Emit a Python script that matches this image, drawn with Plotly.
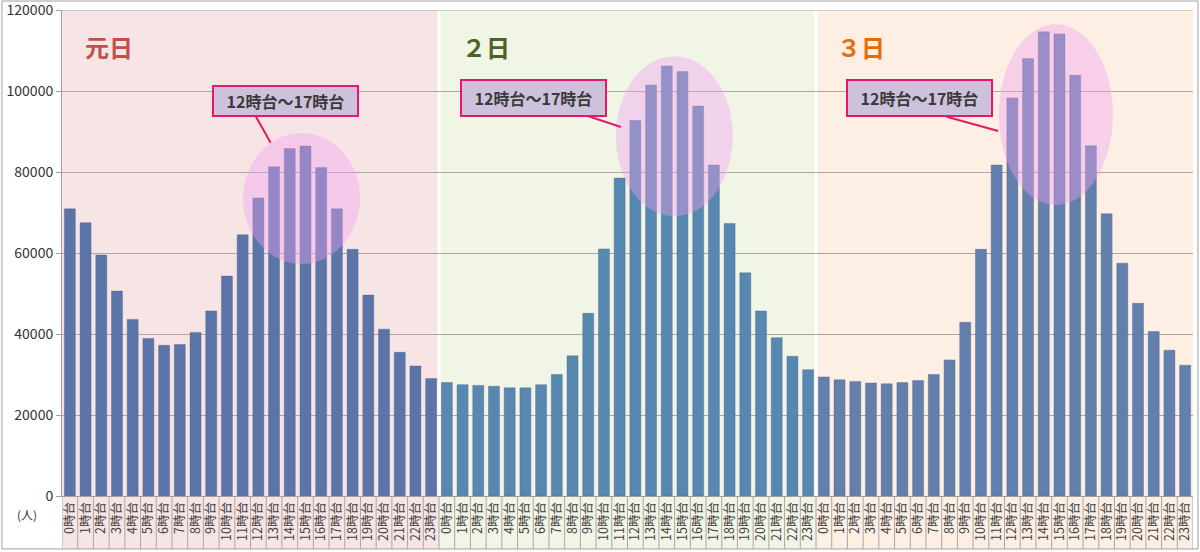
import plotly.graph_objects as go

hours = [f"{h}時台" for h in range(24)]
day_names = ["元日", "２日", "３日"]

day1 = [70900, 67500, 59500, 50600, 43600, 38900, 37200, 37400, 40400, 45700, 54300, 64500,
        73600, 81300, 85800, 86400, 81100, 70900, 60900, 49600, 41200, 35500, 32100, 29000]
day2 = [28000, 27500, 27300, 27100, 26700, 26700, 27500, 30000, 34600, 45100, 61000, 78500,
        92700, 101500, 106200, 104800, 96300, 81700, 67300, 55100, 45700, 39100, 34500, 31200]
day3 = [29400, 28700, 28300, 27900, 27700, 28000, 28500, 30000, 33600, 42900, 60900, 81700,
        98300, 108000, 114600, 114100, 103900, 86500, 69700, 57500, 47600, 40600, 36000, 32300]
callout_text = "12時台～17時台"
y_ticks = [0, 20000, 40000, 60000, 80000, 100000, 120000]

series = [day1, day2, day3]
bar_colors = ["#5B75A9", "#5788B0", "#6380AC"]
band_colors = ["#F7E4E4", "#F1F5E6", "#FDEFE3"]
label_colors = ["#C0504D", "#4F6228", "#E46C0A"]
n = len(hours)

FONT = "Noto Sans CJK JP"
fig = go.Figure()
for d, vals in enumerate(series):
    fig.add_trace(go.Bar(
        x=[d * n + i for i in range(n)], y=vals,
        marker=dict(color=bar_colors[d], line=dict(width=0.6, color="rgba(70,90,140,0.6)")),
        showlegend=False, hoverinfo="y"))

shapes = []
BOTTOM = -0.109
# day bands
for d in range(3):
    shapes.append(dict(type="rect", xref="x", yref="paper", x0=d * n - 0.5, x1=d * n + n - 0.5,
                       y0=BOTTOM, y1=1, fillcolor=band_colors[d], line=dict(width=0), layer="below"))
for d in (1, 2):
    shapes.append(dict(type="line", xref="x", yref="paper", x0=d * n - 0.5, x1=d * n - 0.5,
                       y0=0, y1=1, line=dict(color="white", width=3), layer="below"))
# top gridline (edge of the plot area)
shapes.append(dict(type="line", xref="paper", yref="y", x0=0, x1=1, y0=y_ticks[-1], y1=y_ticks[-1],
                   line=dict(color="#ABA7A2", width=1), layer="below"))
# category dividers in label area
for i in range(3 * n + 1):
    shapes.append(dict(type="line", xref="x", yref="paper", x0=i - 0.5, x1=i - 0.5,
                       y0=BOTTOM, y1=0, line=dict(color="#A8A8A8", width=1), layer="above"))
# highlight ellipses (x in category units, y in data units)
ellipses = [(11.02, 18.47, 57300, 89600), (34.76, 42.21, 69100, 108600), (59.14, 66.40, 71850, 116500)]
for x0, x1, y0, y1 in ellipses:
    shapes.append(dict(type="circle", xref="x", yref="y", x0=x0, x1=x1, y0=y0, y1=y1,
                       fillcolor="rgba(240,160,240,0.4)", line=dict(width=0), layer="above"))
# callout pointer lines
pointers = [(11.85, 93650, 12.78, 87230), (32.73, 94140, 35.08, 91110), (55.82, 93650, 59.10, 90120)]
for x0, y0, x1, y1 in pointers:
    shapes.append(dict(type="line", xref="x", yref="y", x0=x0, y0=y0, x1=x1, y1=y1,
                       line=dict(color="#E6186C", width=2), layer="above"))
# outer frame
shapes.append(dict(type="rect", xref="paper", yref="paper", x0=-0.0531, x1=1.0044, y0=-0.109, y1=1.0185,
                   line=dict(color="#A0A0A0", width=1), fillcolor="rgba(0,0,0,0)", layer="above"))

annotations = []
boxes = [(13.75, 97580, 28), (29.53, 98300, 34), (54.10, 98300, 34)]
for bx, by, bh in boxes:
    annotations.append(dict(xref="x", yref="y", x=bx, y=by, text=f"<b>{callout_text}</b>",
                            showarrow=False, font=dict(family=FONT, size=16, color="#3A3A3A"),
                            bgcolor="#CDC1DB", bordercolor="#E6186C", borderwidth=2,
                            width=143, height=bh, borderpad=0, align="center", valign="middle"))
label_x = [0.84, 24.83, 48.7]
for d in range(3):
    annotations.append(dict(xref="x", yref="y", x=label_x[d], y=111100, xanchor="left", yanchor="middle",
                            text=f"<b>{day_names[d]}</b>", showarrow=False,
                            font=dict(family=FONT, size=24, color=label_colors[d])))
annotations.append(dict(xref="paper", yref="paper", x=-0.031, y=-0.039, text="(人)", showarrow=False,
                        xanchor="center", yanchor="middle", font=dict(family=FONT, size=12, color="#333333")))

fig.update_layout(
    width=1200, height=552,
    margin=dict(l=62, r=7, t=10, b=56, autoexpand=False),
    paper_bgcolor="white", plot_bgcolor="white",
    barmode="overlay", bargap=0.3,
    shapes=shapes, annotations=annotations,
    font=dict(family=FONT),
    xaxis=dict(tickmode="array", tickvals=list(range(3 * n)), ticktext=hours * 3,
               tickangle=-90, range=[-0.5, 3 * n - 0.5], showgrid=False, ticks="",
               automargin=False,
               tickfont=dict(family=FONT, size=12.5, color="#404040"),
               showline=True, linecolor="#A0A0A0", linewidth=1, zeroline=False),
    yaxis=dict(range=[0, 120001], tickvals=y_ticks, ticktext=[str(v) for v in y_ticks],
               showgrid=True, gridcolor="#ABA7A2", gridwidth=1, ticklabeloverflow="allow",
               automargin=False,
               ticks="outside", ticklen=5, tickcolor="#A0A0A0",
               showline=True, linecolor="#A0A0A0", linewidth=1, zeroline=False,
               tickfont=dict(family=FONT, size=14, color="#333333")),
)
fig.write_html("out.html")
